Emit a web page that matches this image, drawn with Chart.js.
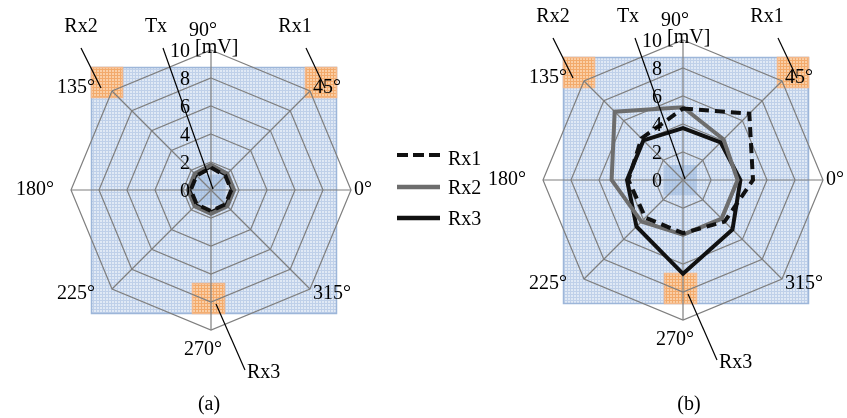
<!DOCTYPE html>
<html>
<head>
<meta charset="utf-8">
<script src="https://cdn.jsdelivr.net/npm/chart.js@4.4.0/dist/chart.umd.min.js"></script>
<style>
  html, body { margin: 0; padding: 0; background: #fff; }
  #wrap { position: relative; width: 847px; height: 418px; overflow: hidden; }
  #wrap canvas { position: absolute; left: 0; top: 0; }
  #legend { position: absolute; left: 390px; top: 140px; }
</style>
</head>
<body>
<div id="wrap">
  <canvas id="chartA" width="847" height="418"></canvas>
  <canvas id="chartB" width="847" height="418"></canvas>
  <svg id="legend" width="100" height="95" font-family="Liberation Serif" font-size="20">
    <line x1="7" y1="15" x2="50" y2="15" stroke="#111" stroke-width="4" stroke-dasharray="11 5"/>
    <line x1="7" y1="47" x2="50" y2="47" stroke="#6d6d6d" stroke-width="4.5"/>
    <line x1="7" y1="78" x2="50" y2="78" stroke="#111" stroke-width="4.5"/>
    <text x="58" y="18" dominant-baseline="central">Rx1</text>
    <text x="58" y="47" dominant-baseline="central">Rx2</text>
    <text x="58" y="78" dominant-baseline="central">Rx3</text>
  </svg>
</div>
<script>
// angles go clockwise from the top, as chart.js lays them out
const angleLabels = ['90°', '45°', '0°', '315°', '270°', '225°', '180°', '135°'];
const tickValues = [0, 2, 4, 6, 8, 10];
const seriesNames = ['Rx1', 'Rx2', 'Rx3'];

// (a) all three receivers close to the centre
const rx1A = [1.6, 1.45, 1.45, 1.45, 1.5, 1.45, 1.45, 1.45];
const rx2A = [1.8, 1.65, 1.65, 1.65, 1.7, 1.65, 1.65, 1.65];
const rx3A = [1.7, 1.55, 1.55, 1.55, 1.6, 1.55, 1.55, 1.55];

// (b)
const rx1B = [5.1, 6.7, 5.0, 4.2, 3.8, 3.8, 3.9, 4.2];
const rx2B = [5.2, 4.1, 3.9, 3.9, 3.9, 4.2, 5.1, 6.9];
const rx3B = [3.7, 3.8, 4.1, 5.0, 6.7, 4.7, 4.0, 4.0];

const FONT = '20px "Liberation Serif"';

function makePattern(ctx, fill, line) {
    const c = document.createElement('canvas');
    c.width = 3; c.height = 3;
    const g = c.getContext('2d');
    g.fillStyle = fill;
    g.fillRect(0, 0, 3, 3);
    g.fillStyle = line;
    g.fillRect(0, 0, 3, 1);
    g.fillRect(0, 0, 1, 3);
    return ctx.createPattern(c, 'repeat');
}

function patchRect(ctx, x, y, w, h, pattern, border) {
    ctx.fillStyle = pattern;
    ctx.fillRect(x, y, w, h);
    ctx.strokeStyle = border;
    ctx.lineWidth = 1.5;
    ctx.strokeRect(x + 0.5, y + 0.5, w - 1, h - 1);
}

const decorPlugin = {
    id: 'decor',
    beforeDraw(chart) {
        const ctx = chart.ctx;
        const s = chart.scales.r;
        const cx = s.xCenter, cy = s.yCenter;
        const blue = makePattern(ctx, '#e0e9f5', '#bfd0e9');
        const orange = makePattern(ctx, '#fbcfa6', '#f2aa6c');
        ctx.save();
        // room with the antennas
        patchRect(ctx, cx - 120, cy - 123, 246, 247, blue, '#9db6d9');
        patchRect(ctx, cx - 120, cy - 123, 32, 31, orange, '#f3b88a');
        patchRect(ctx, cx + 94, cy - 123, 32, 31, orange, '#f3b88a');
        patchRect(ctx, cx - 19, cy + 93, 33, 31, orange, '#f3b88a');
        ctx.fillStyle = 'rgba(140,172,214,0.45)';
        ctx.fillRect(cx - 19, cy - 15, 33, 30);
        ctx.restore();
    },
    afterDraw(chart, args, opts) {
        const ctx = chart.ctx;
        const s = chart.scales.r;
        const cx = s.xCenter, cy = s.yCenter;
        ctx.save();
        ctx.font = FONT;
        ctx.fillStyle = '#000';
        ctx.textBaseline = 'middle';

        // angle labels
        angleLabels.forEach((lab, i) => {
            const p = s.getPointPosition(i, s.drawingArea);
            const a = s.getIndexAngle(i);
            const dx = Math.sin(a), dy = -Math.cos(a);
            let x = p.x, y = p.y;
            if (Math.abs(dx) < 0.1) {
                ctx.textAlign = 'center';
                x -= 8;
                y += dy < 0 ? -19 : 20;
            } else {
                ctx.textAlign = dx > 0 ? 'left' : 'right';
                x += dx > 0 ? 3 : -17;
                y += dy > 0.1 ? 5 : (dy < -0.1 ? -3 : 0);
            }
            ctx.fillText(lab, x, y);
        });

        // value ticks along the 90° spoke
        ctx.textAlign = 'right';
        tickValues.forEach(v => {
            ctx.fillText(String(v), cx - 21, cy - s.getDistanceFromCenterForValue(v) + 2);
        });
        ctx.textAlign = 'left';
        ctx.fillText('[mV]', cx - 16, cy - s.getDistanceFromCenterForValue(10) - 2);

        // antenna call-outs
        ctx.strokeStyle = '#000';
        ctx.lineWidth = 1.2;
        opts.callouts.forEach(c => {
            ctx.textAlign = c.align;
            ctx.fillText(c.text, cx + c.tx, cy + c.ty);
            ctx.beginPath();
            ctx.moveTo(cx + c.l[0], cy + c.l[1]);
            ctx.lineTo(cx + c.l[2], cy + c.l[3]);
            ctx.stroke();
        });

        ctx.textAlign = 'center';
        ctx.fillText(opts.caption, cx + opts.captionDx, 405);
        ctx.restore();
    }
};

function callouts() {
    return [
        { text: 'Rx2', align: 'center', tx: -130, ty: -163, l: [-130, -142, -110, -102] },
        { text: 'Tx', align: 'center', tx: -55, ty: -163, l: [-48, -142, 2, -1] },
        { text: 'Rx1', align: 'center', tx: 84, ty: -163, l: [95, -142, 114, -102] },
        { text: 'Rx3', align: 'left', tx: 36, ty: 183, l: [5, 114, 34, 180] }
    ];
}

function makeRadar(id, values, pad, caption, captionDx) {
    const ctx = document.getElementById(id).getContext('2d');
    return new Chart(ctx, {
        type: 'radar',
        data: {
            labels: angleLabels,
            datasets: [
                {
                    label: seriesNames[0],
                    data: values[0],
                    borderColor: '#111',
                    borderWidth: 4,
                    borderDash: [10, 6],
                    fill: false,
                    pointRadius: 0
                },
                {
                    label: seriesNames[1],
                    data: values[1],
                    borderColor: '#6d6d6d',
                    borderWidth: 4,
                    fill: false,
                    pointRadius: 0
                },
                {
                    label: seriesNames[2],
                    data: values[2],
                    borderColor: '#111',
                    borderWidth: 4,
                    fill: false,
                    pointRadius: 0
                }
            ]
        },
        options: {
            responsive: false,
            animation: false,
            layout: { padding: pad },
            elements: { line: { tension: 0, borderJoinStyle: 'miter' } },
            scales: {
                r: {
                    min: 0,
                    max: 10,
                    ticks: { stepSize: 2, display: false },
                    pointLabels: { display: false },
                    grid: { color: '#7f7f7f', lineWidth: 1.2 },
                    angleLines: { color: '#7f7f7f', lineWidth: 1.2 }
                }
            },
            plugins: {
                legend: { display: false },
                tooltip: { enabled: false },
                decor: { callouts: callouts(), caption: caption, captionDx: captionDx }
            }
        },
        plugins: [decorPlugin]
    });
}

makeRadar('chartA', [rx1A, rx2A, rx3A], { left: 71, right: 496, top: 50, bottom: 88 }, '(a)', -2);
makeRadar('chartB', [rx1B, rx2B, rx3B], { left: 543, right: 24, top: 40, bottom: 98 }, '(b)', 6);
</script>
</body>
</html>
